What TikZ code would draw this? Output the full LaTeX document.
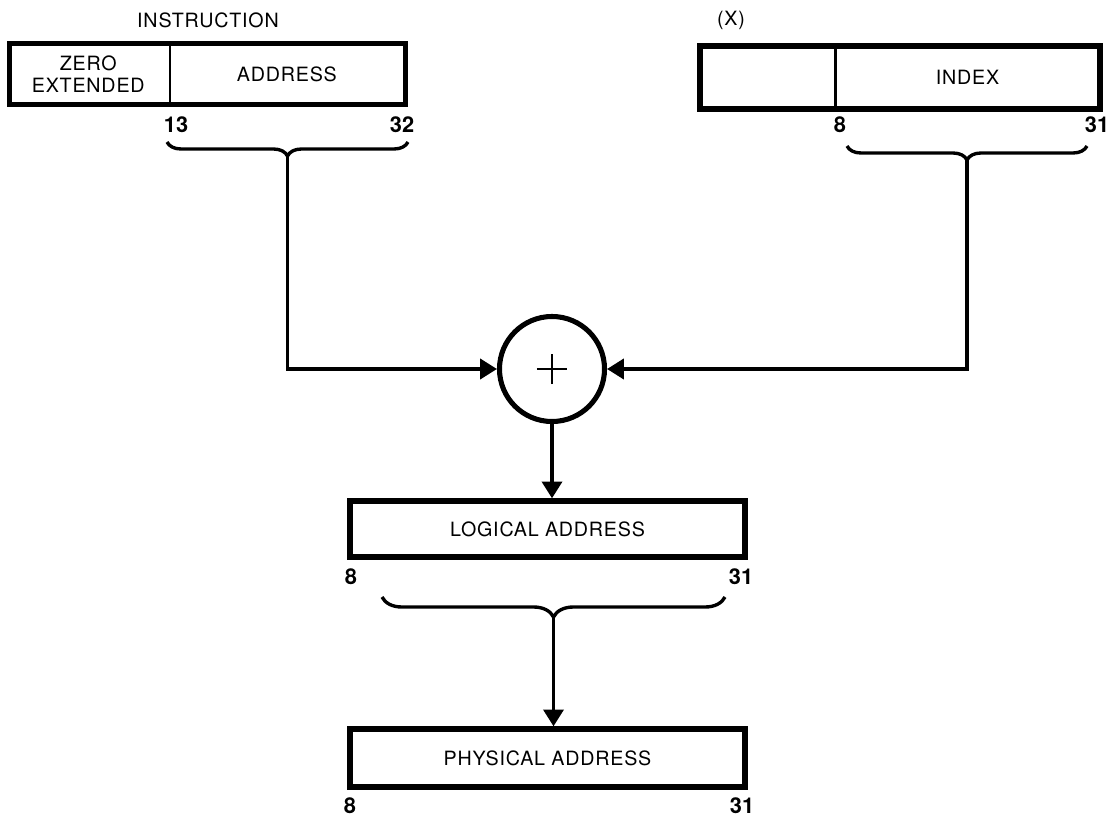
\documentclass[tikz,border=0pt]{standalone}
\usepackage{fontspec}
\setmainfont{TeX Gyre Heros}[LetterSpace=4]
\newfontfamily\bitfont{TeX Gyre Heros}
\usetikzlibrary{arrows.meta,decorations.pathreplacing,positioning}
\begin{document}
\begin{tikzpicture}[x=0.025cm,y=-0.025cm,
  regbox/.style={draw,line width=3.8pt,inner sep=0pt},
  field/.style={inner sep=0pt,align=center,font=\fontsize{14}{16}\selectfont},
  divider/.style={line width=1.6pt},
  bitno/.style={inner sep=0pt,font=\bitfont\bfseries\fontsize{15.5}{17}\selectfont},
  conn/.style={line width=2.6pt,-{Triangle[length=0.42cm,width=0.5cm]}},
  bracket/.style={line width=2.4pt,decorate,decoration={brace,mirror,amplitude=#1}}]
\useasboundingbox (0,0) rectangle (1116,819);
\node[field] (instrlbl) at (208,20) {INSTRUCTION};
\node[regbox,minimum width=9.9cm,minimum height=1.525cm] (instr) at (207.5,74) {};
\node[field,minimum width=4.06cm,minimum height=1.525cm,anchor=west] (zero) at (instr.west) {ZERO\\EXTENDED};
\node[field,minimum width=5.84cm,minimum height=1.525cm,right=0pt of zero] (addr) {ADDRESS};
\draw[divider] (zero.north east) -- (zero.south east);
\node[bitno] (ilo) at (176,125) {13};
\node[bitno] (ihi) at (402,125) {32};
\node[field] (xlbl) at (731,20) {(X)};
\node[regbox,minimum width=10cm,minimum height=1.575cm] (xreg) at (900,77.5) {};
\node[field,minimum width=3.44cm,minimum height=1.575cm,anchor=west] (xblank) at (xreg.west) {};
\node[field,minimum width=6.59cm,minimum height=1.575cm,right=0pt of xblank] (index) {INDEX};
\draw[divider] (xblank.north east) -- (xblank.south east);
\node[bitno] (xlo) at (840,125) {8};
\node[bitno] (xhi) at (1097,125) {31};
\draw[bracket=0.35cm] (167,142) -- (408,142);
\draw[bracket=0.35cm] (847,146) -- (1087,146);
\coordinate (itip) at (287.5,156);
\coordinate (xtip) at (967,160);
\node[circle,draw,line width=3.6pt,minimum size=2.625cm,inner sep=0pt] (sum) at (552,369) {};
\draw[line width=1.5pt] ([xshift=-0.38cm]sum.center) -- ([xshift=0.38cm]sum.center)
  ([yshift=-0.38cm]sum.center) -- ([yshift=0.38cm]sum.center);
\draw[conn] (itip) |- (sum.west);
\draw[conn] (xtip) |- (sum.east);
\node[regbox,field,draw,line width=3.8pt,minimum width=9.875cm,minimum height=1.4cm] (logical) at (547.5,529) {LOGICAL ADDRESS};
\draw[conn] (sum.south) -- (sum.south |- logical.north);
\node[bitno] (llo) at (351,577) {8};
\node[bitno] (lhi) at (741,577) {31};
\draw[bracket=0.5cm] (382,597) -- (725,597);
\coordinate (ltip) at (553.5,617);
\node[regbox,field,draw,line width=3.8pt,minimum width=9.875cm,minimum height=1.45cm] (physical) at (547.5,758) {PHYSICAL ADDRESS};
\draw[conn] (ltip) -- (ltip |- physical.north);
\node[bitno] (plo) at (350,806) {8};
\node[bitno] (phi) at (742,806) {31};
\end{tikzpicture}
\end{document}
